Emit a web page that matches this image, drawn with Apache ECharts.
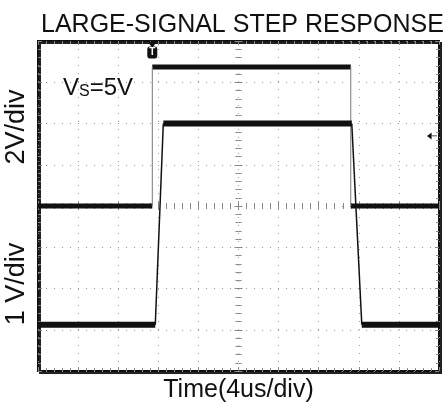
<!DOCTYPE html>
<html lang="en">
<head>
<meta charset="UTF-8">
<title>Large-signal step response</title>
<style>
html, body { margin: 0; padding: 0; background: #fff; }
#container { width: 443px; height: 408px; }
</style>
</head>
<body>
<div id="container"></div>
<script src="https://cdn.jsdelivr.net/npm/echarts@6/dist/echarts.min.js"></script>
<script>
// time in us (4us/div, 10 div); vertical in screen divisions (8 div)
var timeRange = [0, 40];
var divRange = [-4, 4];

// input trace (2V/div): low / high level, rise / fall time
var inLevels = [0, 3.37];
var inEdges = [11.4, 31.2];

// output trace (1V/div): low / high level, edge start / end times
var outLevels = [-2.88, 2.0];
var outRise = [11.7, 12.5];
var outFall = [31.3, 32.3];

// ground marker on the right edge
var markerPos = [39.3, 1.7];

var dom = document.getElementById('container');
var myChart = echarts.init(dom);

function seg(points, width, color) {
    return {
        type: 'line',
        data: points,
        symbol: 'none',
        silent: true,
        animation: false,
        lineStyle: { width: width, color: color }
    };
}

var t0 = timeRange[0], t1 = timeRange[1];
var series = [
    seg([[t0, inLevels[0]], [inEdges[0], inLevels[0]]], 5, '#111'),
    seg([[inEdges[0], inLevels[1]], [inEdges[1], inLevels[1]]], 5, '#111'),
    seg([[inEdges[1], inLevels[0]], [t1, inLevels[0]]], 5, '#111'),
    seg([[inEdges[0], inLevels[0]], [inEdges[0], inLevels[1]]], 1, '#777'),
    seg([[inEdges[1], inLevels[1]], [inEdges[1], inLevels[0]]], 1, '#777'),
    seg([[t0, outLevels[0]], [outRise[0], outLevels[0]]], 6, '#111'),
    seg([[outRise[1], outLevels[1]], [outFall[0], outLevels[1]]], 6, '#111'),
    seg([[outFall[1], outLevels[0]], [t1, outLevels[0]]], 6, '#111'),
    seg([[outRise[0], outLevels[0]], [outRise[1], outLevels[1]]], 1.5, '#111'),
    seg([[outFall[0], outLevels[1]], [outFall[1], outLevels[0]]], 1.5, '#111')
];

// trigger and ground markers
series[1].markPoint = {
    silent: true,
    animation: false,
    z: 10,
    data: [
        { coord: [inEdges[0], 3.91], symbol: 'triangle', symbolRotate: 180, symbolSize: [9, 6],
          itemStyle: { color: '#111' }, label: { show: false } },
        { coord: [inEdges[0], 3.72], symbol: 'roundRect', symbolSize: [10, 12],
          itemStyle: { color: '#111' },
          label: { show: true, position: 'inside', formatter: 'T', color: '#fff', fontSize: 10, fontWeight: 'bold',
                   fontFamily: 'Liberation Sans' } },
        { coord: markerPos, symbol: 'path://M0,5 L6,0 L6,10 Z M6,4.3 L13,4.3 L13,5.7 L6,5.7 Z',
          symbolSize: [10, 7], itemStyle: { color: '#111' }, label: { show: false } }
    ]
};

var dotted = { color: '#999', width: 1, type: [1, 7] };
var tickStyle = { color: '#888', width: 1 };

function frameAxis(extra, range, grid) {
    return Object.assign({
        type: 'value',
        min: range[0],
        max: range[1],
        interval: range === timeRange ? 4 : 1,
        axisLine: { show: false, onZero: false },
        axisLabel: { show: false },
        axisTick: { show: true, inside: true, length: 4, lineStyle: tickStyle },
        minorTick: { show: true, splitNumber: 5, length: 3, lineStyle: tickStyle },
        splitLine: { show: grid, lineStyle: dotted }
    }, extra);
}

option = {
    backgroundColor: '#fff',
    animation: false,
    title: {
        text: 'LARGE-SIGNAL STEP RESPONSE',
        left: 36,
        top: 8,
        textStyle: { fontFamily: 'Liberation Sans', fontSize: 25, fontWeight: 'normal', color: '#111' }
    },
    grid: {
        left: 38, top: 41, width: 401, height: 330,
        show: true,
        backgroundColor: '#fff',
        borderColor: '#111',
        borderWidth: 2,
        shadowColor: '#222',
        shadowOffsetX: 2,
        shadowOffsetY: 2,
        shadowBlur: 0,
        outerBoundsMode: 'none'
    },
    xAxis: [
        frameAxis({ position: 'bottom', name: 'Time(4us/div)', nameLocation: 'middle', nameGap: 7,
            nameTextStyle: { fontFamily: 'Liberation Sans', fontSize: 25, color: '#111', verticalAlign: 'top' } },
            timeRange, true),
        frameAxis({ position: 'top' }, timeRange, false),
        frameAxis({ position: 'bottom', offset: -165 }, timeRange, false),
        frameAxis({ position: 'bottom', offset: -165, axisTick: { show: true, inside: false, length: 4, lineStyle: tickStyle } }, timeRange, false)
    ],
    yAxis: [
        frameAxis({ position: 'left' }, divRange, true),
        frameAxis({ position: 'right' }, divRange, false),
        frameAxis({ position: 'left', offset: -200.5 }, divRange, false),
        frameAxis({ position: 'left', offset: -200.5, axisTick: { show: true, inside: false, length: 4, lineStyle: tickStyle } }, divRange, false)
    ],
    graphic: [
        { type: 'text', x: 17, y: 127, rotation: Math.PI / 2,
          style: { text: '2V/div', fontFamily: 'Liberation Sans', fontSize: 27, fill: '#111',
                   align: 'center', verticalAlign: 'middle' } },
        { type: 'text', x: 17, y: 284, rotation: Math.PI / 2,
          style: { text: '1 V/div', fontFamily: 'Liberation Sans', fontSize: 27, fill: '#111',
                   align: 'center', verticalAlign: 'middle' } },
        { type: 'text', x: 63, y: 76,
          style: { text: '{v|V}{s|S}{v|=5V}', fontFamily: 'Liberation Sans', fill: '#111',
                   rich: { v: { fontSize: 24, fontFamily: 'Liberation Sans', verticalAlign: 'bottom' },
                           s: { fontSize: 16, fontFamily: 'Liberation Sans', verticalAlign: 'bottom' } } } }
    ],
    series: series
};

myChart.setOption(option);
</script>
</body>
</html>
